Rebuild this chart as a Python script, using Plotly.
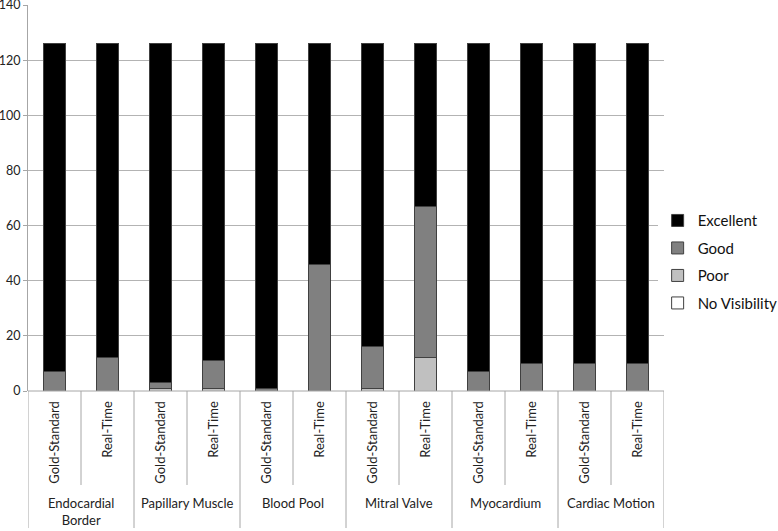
import plotly.graph_objects as go

groups = ["Endocardial<br>Border", "Papillary Muscle", "Blood Pool", "Mitral Valve", "Myocardium", "Cardiac Motion"]
methods = ["Gold-Standard", "Real-Time"]

no_visibility = [0, 0, 0, 0, 0, 0, 0, 0, 0, 0, 0, 0]
poor =          [0, 0, 1, 1, 0, 0, 1, 12, 0, 0, 0, 0]
good =          [7, 12, 2, 10, 1, 46, 15, 55, 7, 10, 10, 10]
excellent =     [119, 114, 123, 115, 125, 80, 110, 59, 119, 116, 116, 116]

y_ticks = [0, 20, 40, 60, 80, 100, 120, 140]

n = len(groups) * len(methods)
xs = list(range(n))
sub_labels = [m for g in groups for m in methods]

FONT = "Lato"
fig = go.Figure()
series = [("No Visibility", no_visibility, "#ffffff", 4),
          ("Poor", poor, "#c0c0c0", 3),
          ("Good", good, "#808080", 2),
          ("Excellent", excellent, "#000000", 1)]
for name, vals, col, rank in series:
    fig.add_trace(go.Bar(x=xs, y=vals, name=name, marker_color=col,
                         marker_line=dict(color="#404040", width=1),
                         width=0.4, legendgroup=name, legendrank=rank))

fig.update_layout(
    barmode="stack",
    width=778, height=531,
    margin=dict(l=28, r=114, t=5, b=140, autoexpand=False),
    paper_bgcolor="white", plot_bgcolor="white",
    font=dict(family=FONT, size=13, color="#222222"),
    showlegend=True,
    legend=dict(traceorder="grouped", x=0.99, xanchor="left", y=0.335, yanchor="middle",
                font=dict(size=15, family=FONT, color="#111111"), tracegroupgap=5,
                itemwidth=30),
    xaxis=dict(range=[-0.5, n - 0.5], showticklabels=False, showgrid=False,
               zeroline=False, showline=False, ticks="", automargin=False),
    yaxis=dict(range=[0, 140], tickvals=y_ticks, showgrid=True, gridcolor="#b3b3b3",
               gridwidth=1, zeroline=False, showline=True, linecolor="#a6a6a6",
               ticks="outside", ticklen=4, tickcolor="#a6a6a6", automargin=False,
               ticklabelstandoff=0, ticklabeloverflow="allow",
               tickfont=dict(size=12.5, family=FONT, color="#222222")),
)

shapes = []
# horizontal axis line
shapes.append(dict(type="line", xref="x", yref="paper", x0=-0.5, x1=n - 0.5, y0=0, y1=0,
                   line=dict(color="#a6a6a6", width=1)))
for k in range(len(groups) + 1):
    xv = -0.5 + 2 * k
    shapes.append(dict(type="line", xref="x", yref="paper", x0=xv, x1=xv, y0=0, y1=-0.355,
                       line=dict(color="#a6a6a6", width=1)))
for k in range(len(groups)):
    xv = 0.5 + 2 * k
    shapes.append(dict(type="line", xref="x", yref="paper", x0=xv, x1=xv, y0=0, y1=-0.2435,
                       line=dict(color="#a6a6a6", width=1)))
fig.update_layout(shapes=shapes)

annotations = []
for x, lab in zip(xs, sub_labels):
    annotations.append(dict(x=x, y=-0.02, xref="x", yref="paper", text=lab, textangle=-90,
                            showarrow=False, xanchor="center", yanchor="top",
                            font=dict(size=13, family=FONT, color="#222222")))
for k, g in enumerate(groups):
    annotations.append(dict(x=0.5 + 2 * k, y=-0.263, xref="x", yref="paper", text=g,
                            showarrow=False, xanchor="center", yanchor="top",
                            font=dict(size=13, family=FONT, color="#222222")))
fig.update_layout(annotations=annotations)

fig.write_html("out.html", config={"displayModeBar": False},
               post_script="document.body.style.margin='0px';")
